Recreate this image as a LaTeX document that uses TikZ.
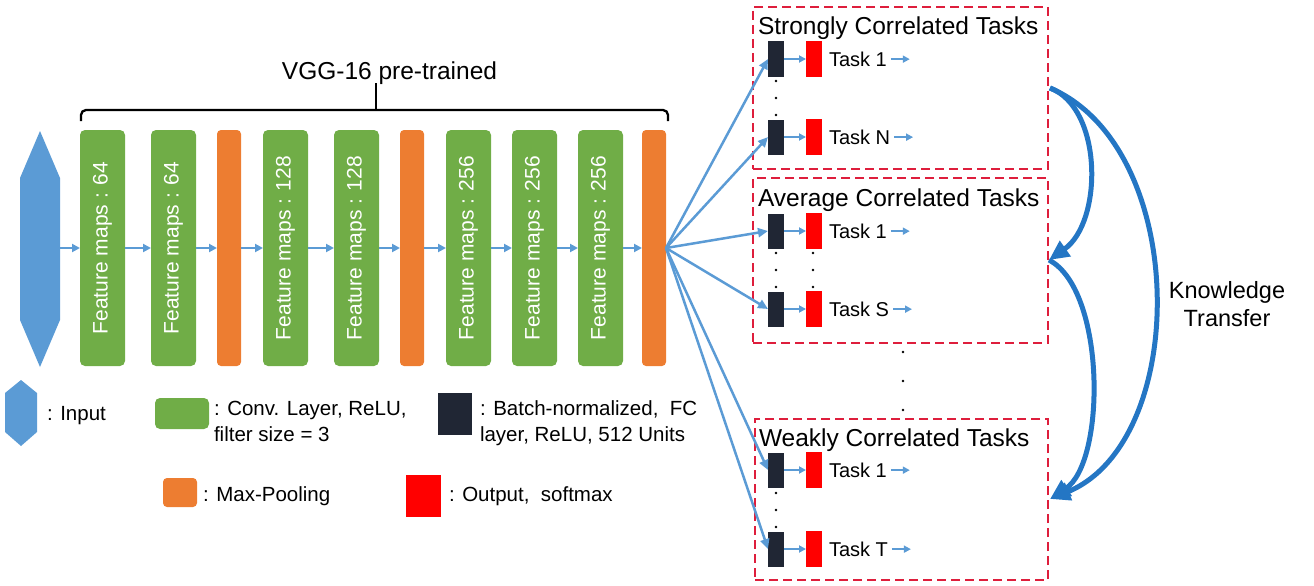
\documentclass[tikz,border=0pt]{standalone}
\usepackage{fontspec}
\setmainfont{Liberation Sans}
\usetikzlibrary{arrows.meta}
\definecolor{inblue}{RGB}{91,155,213}
\definecolor{convgreen}{RGB}{112,173,71}
\definecolor{poolorange}{RGB}{237,125,49}
\definecolor{fcdark}{RGB}{32,38,52}
\definecolor{outred}{RGB}{255,0,0}
\definecolor{dashred}{RGB}{222,30,60}
\definecolor{ktblue}{RGB}{36,118,196}
\begin{document}
\begin{tikzpicture}[x=1pt,y=-1pt,
  every node/.style={inner sep=0pt, outer sep=0pt},
  convbox/.style={fill=convgreen, rounded corners=5pt, minimum width=45pt, minimum height=236pt, anchor=north west},
  poolbox/.style={fill=poolorange, rounded corners=4pt, minimum width=24pt, minimum height=236pt, anchor=north west},
  fmtext/.style={rotate=90, text=white, font=\fontsize{21}{21}\selectfont},
  flowarr/.style={draw=inblue, line width=2.5pt, -{Triangle[length=8pt,width=8pt]}},
  fanarr/.style={draw=inblue, line width=2.5pt, -{Triangle[length=10pt,width=9pt]}},
  smallarr/.style={draw=inblue, line width=2.5pt, -{Triangle[length=7pt,width=7pt]}},
  fcbox/.style={fill=fcdark, minimum width=16pt, minimum height=35pt, anchor=west},
  outbox/.style={fill=outred, minimum width=16pt, minimum height=36pt, anchor=west},
  tasktext/.style={font=\fontsize{20}{20}\selectfont, anchor=base west},
  groupbox/.style={draw=dashred, line width=2pt, dash pattern=on 9pt off 5pt, anchor=north west},
  titletext/.style={font=\fontsize{24.5}{24.5}\selectfont, anchor=base west},
  legtext/.style={font=\fontsize{20.5}{20.5}\selectfont, anchor=base west},
  ktarr/.style={draw=ktblue, line width=5pt, -{Triangle[length=20pt,width=18pt]}},
  dotmark/.style={fill=black, circle, minimum size=2.6pt}
]
\useasboundingbox (0,0) rectangle (1314,586);

% ---- input
\node[minimum width=40pt, minimum height=236pt] (inp) at (40,248) {};
\fill[inblue] (40,131) -- (60,178) -- (60,320) -- (40,367) -- (20,320) -- (20,178) -- cycle;

% ---- VGG pipeline
\node[convbox] (g1) at (80,130) {};
\node[convbox] (g2) at (151,130) {};
\node[poolbox] (p1) at (217,130) {};
\node[convbox] (g3) at (263,130) {};
\node[convbox] (g4) at (334,130) {};
\node[poolbox] (p2) at (400,130) {};
\node[convbox] (g5) at (446,130) {};
\node[convbox] (g6) at (512,130) {};
\node[convbox] (g7) at (578,130) {};
\node[poolbox] (p3) at (642,130) {};

\node[fmtext] (f1) at (g1.center) {Feature maps : 64};
\node[fmtext] (f2) at (g2.center) {Feature maps : 64};
\node[fmtext] (f3) at (g3.center) {Feature maps : 128};
\node[fmtext] (f4) at (g4.center) {Feature maps : 128};
\node[fmtext] (f5) at (g5.center) {Feature maps : 256};
\node[fmtext] (f6) at (g6.center) {Feature maps : 256};
\node[fmtext] (f7) at (g7.center) {Feature maps : 256};

\draw[flowarr] (inp.east) -- (g1.west);
\draw[flowarr] (g1.east) -- (g2.west);
\draw[flowarr] (g2.east) -- (p1.west);
\draw[flowarr] (p1.east) -- (g3.west);
\draw[flowarr] (g3.east) -- (g4.west);
\draw[flowarr] (g4.east) -- (p2.west);
\draw[flowarr] (p2.east) -- (g5.west);
\draw[flowarr] (g5.east) -- (g6.west);
\draw[flowarr] (g6.east) -- (g7.west);
\draw[flowarr] (g7.east) -- (p3.west);

% ---- brace
\draw[line width=2.3pt, rounded corners=5pt] (81,121) |- (668,110) -- (668,121);
\draw[line width=2.3pt] (376,110) -- (376,83);
\node[font=\fontsize{24.5}{24.5}\selectfont, anchor=base] (vgg) at (389.5,79) {VGG-16 pre-trained};

% ---- task groups
\node[groupbox, minimum width=295pt, minimum height=162pt] (b1) at (753,7) {};
\node[groupbox, minimum width=295pt, minimum height=165pt] (b2) at (753,178) {};
\node[groupbox, minimum width=293pt, minimum height=161pt] (b3) at (755,419) {};
\node[titletext] (h1) at (758,35) {Strongly Correlated Tasks};
\node[titletext] (h2) at (758,206) {Average Correlated Tasks};
\node[titletext] (h3) at (759,446) {Weakly Correlated Tasks};

\foreach \n/\y/\t in {1a/59/Task 1, 1b/137/Task N, 2a/231/Task 1, 2b/309/Task S, 3a/470/Task 1, 3b/549/Task T}{
  \node[fcbox] (d\n) at (768,\y) {};
  \node[outbox] (r\n) at (806,\y) {};
  \node[tasktext] (t\n) at (829,\y+7.3) {\t};
  \coordinate (e\n) at ([xshift=23pt]t\n.east);
  \draw[smallarr] (d\n.east) -- (r\n.west);
  \draw[smallarr] ([xshift=4pt]t\n.east) -- (e\n);
  \draw[fanarr] (p3.east) -- (d\n.west);
}

% ---- dots
\foreach \i/\x/\y in {1/776/81, 2/776/98, 3/776/115,
                      4/776/253, 5/776/270, 6/776/287,
                      7/813/253, 8/813/270, 9/813/287,
                      10/776/493, 11/776/510, 12/776/527,
                      13/903/352, 14/903/381, 15/903/410}{
  \node[dotmark] (dot\i) at (\x,\y) {};
}

% ---- knowledge transfer
\coordinate (k1) at (1050,88);
\coordinate (k2) at (1049,260);
\coordinate (k3) at (1050,499);
\draw[ktarr] (k1) .. controls (1103,108) and (1103,222) .. (k2);
\draw[ktarr] (k2) .. controls (1106,290) and (1106,462) .. (k3);
\draw[ktarr] (k1) .. controls (1190,148) and (1190,442) .. (k3);
\node[font=\fontsize{23.5}{28}\selectfont, align=center] (kt) at (1227,304) {Knowledge\\Transfer};

% ---- legend
\fill[inblue] (21,380) -- (37,393) -- (37,432) -- (21,446) -- (5,432) -- (5,393) -- cycle;
\node[legtext] (li) at (47,420.5) {: Input};
\node[fill=convgreen, rounded corners=5pt, minimum width=54pt, minimum height=31pt, anchor=north west] (lg) at (155,398) {};
\node[legtext] (lc1) at (214,415) {: Conv. Layer, ReLU,};
\node[legtext] (lc2) at (214,441.5) {filter size = 3};
\node[fill=fcdark, minimum width=34pt, minimum height=42pt, anchor=north west] (ld) at (438,393) {};
\node[legtext] (lb1) at (480,415) {: Batch-normalized,\ \ FC};
\node[legtext] (lb2) at (480,441.5) {layer, ReLU, 512 Units};
\node[fill=poolorange, rounded corners=4pt, minimum width=34pt, minimum height=29pt, anchor=north west] (lp) at (163,478) {};
\node[legtext] (lm) at (203,501.5) {: Max-Pooling};
\node[fill=outred, minimum width=35pt, minimum height=42pt, anchor=north west] (lr) at (406,475) {};
\node[legtext] (lo) at (449,501.5) {: Output,\ \ softmax};
\end{tikzpicture}
\end{document}
